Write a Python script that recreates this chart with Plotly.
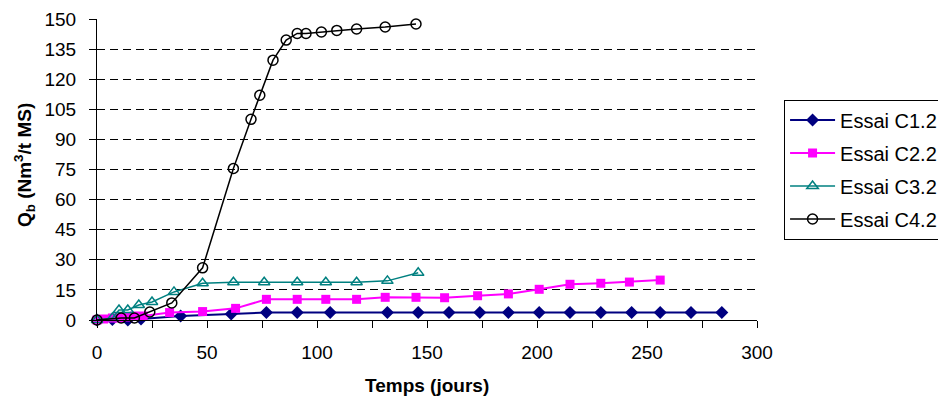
import plotly.graph_objects as go

c1_x = [0, 7, 14, 20, 38, 61, 77, 91, 106, 132, 146, 160, 174, 187, 201, 215, 229, 243, 256, 270, 284]
c1_y = [0, 0.3, 0, 0.5, 2, 3, 3.7, 3.7, 3.7, 3.7, 3.7, 3.7, 3.7, 3.7, 3.7, 3.7, 3.7, 3.7, 3.7, 3.7, 3.7]

c2_x = [0, 3, 7, 10, 14, 17, 21, 33, 48, 63, 77, 91, 104, 118, 131, 145, 158, 173, 187, 201, 215, 229, 242, 256]
c2_y = [0, 0.5, 1, 1, 1.5, 2, 2, 3.7, 4.2, 5.8, 10.3, 10.3, 10.3, 10.3, 11.3, 11.3, 11.1, 12.1, 13, 15.3, 17.8, 18.3, 18.9, 19.9]

c3_x = [0, 7, 10, 14, 19, 25, 35, 48, 62, 76, 91, 104, 118, 132, 146]
c3_y = [0, 1, 5, 5, 7.5, 9, 14, 18.3, 18.8, 18.8, 18.8, 18.8, 18.8, 19.5, 23.5]

c4_x = [0, 11, 17, 24, 34, 48, 62, 70, 74, 80, 86, 91, 95, 102, 109, 118, 131, 145]
c4_y = [0, 1, 1, 4, 8.5, 26, 75.5, 100, 112, 129.5, 139.5, 142.8, 142.8, 143.5, 144.3, 145, 146, 147.5]

names = ["Essai C1.2", "Essai C2.2", "Essai C3.2", "Essai C4.2"]
x_ticks = [0, 50, 100, 150, 200, 250, 300]
y_ticks = [0, 15, 30, 45, 60, 75, 90, 105, 120, 135, 150]

fig = go.Figure()
fig.add_trace(go.Scatter(x=c1_x, y=c1_y, name=names[0], legendgroup="g1", mode="lines+markers",
                         line=dict(color="#000080", width=2),
                         marker=dict(symbol="diamond", size=10, color="#000080"),
                         cliponaxis=False))
fig.add_trace(go.Scatter(x=c2_x, y=c2_y, name=names[1], legendgroup="g2", mode="lines+markers",
                         line=dict(color="#FF00FF", width=2),
                         marker=dict(symbol="square", size=9, color="#FF00FF"),
                         cliponaxis=False))
fig.add_trace(go.Scatter(x=c3_x, y=c3_y, name=names[2], legendgroup="g3", mode="lines+markers",
                         line=dict(color="#008080", width=1.5),
                         marker=dict(symbol="triangle-up-open", size=10, color="#008080",
                                     line=dict(width=1.5)),
                         cliponaxis=False))
fig.add_trace(go.Scatter(x=c4_x, y=c4_y, name=names[3], legendgroup="g4", mode="lines+markers",
                         line=dict(color="#000000", width=1.5),
                         marker=dict(symbol="circle-open", size=10, color="#000000",
                                     line=dict(width=1.5)),
                         cliponaxis=False))

font = "Liberation Sans, Arial, sans-serif"
# page body adds an 8px margin: figure is 938x393 so the plot lands at the reference position
fig.update_layout(
    width=938, height=393,
    margin=dict(l=89, r=189, t=11, b=81, autoexpand=False),
    paper_bgcolor="white", plot_bgcolor="white",
    font=dict(family=font, size=20, color="black"),
    showlegend=True,
    legend=dict(x=1.041, y=0.5, xanchor="left", yanchor="middle",
                bordercolor="black", borderwidth=1, font=dict(size=20),
                tracegroupgap=4, itemwidth=45),
    xaxis=dict(range=[0, 300], tickvals=x_ticks, ticks="outside", ticklen=7,
               tickcolor="black", showline=True, linecolor="black", linewidth=1,
               showgrid=False, zeroline=False, automargin=False,
               tickfont=dict(size=19), ticklabelstandoff=8,
               minor=dict(dtick=25, ticks="outside", ticklen=7, tickcolor="black", showgrid=False)),
    yaxis=dict(range=[0, 150], tickvals=y_ticks, ticks="outside", ticklen=7,
               tickcolor="black", showline=True, linecolor="black", linewidth=1,
               showgrid=True, gridcolor="black", gridwidth=1, griddash="8px,5px",
               zeroline=False, automargin=False,
               tickfont=dict(size=19), ticklabelstandoff=9),
    annotations=[
        dict(text="<b>Temps (jours)</b>", xref="paper", yref="paper",
             x=0.5, y=-0.216, xanchor="center", yanchor="middle",
             showarrow=False, font=dict(size=19)),
        dict(text="<b>Q<sub>b</sub> (Nm<sup>3</sup>/t MS)</b>", xref="paper", yref="paper",
             x=-0.109, y=0.515, xanchor="center", yanchor="middle", textangle=-90,
             showarrow=False, font=dict(size=19)),
    ],
)
fig.write_html("out.html")
